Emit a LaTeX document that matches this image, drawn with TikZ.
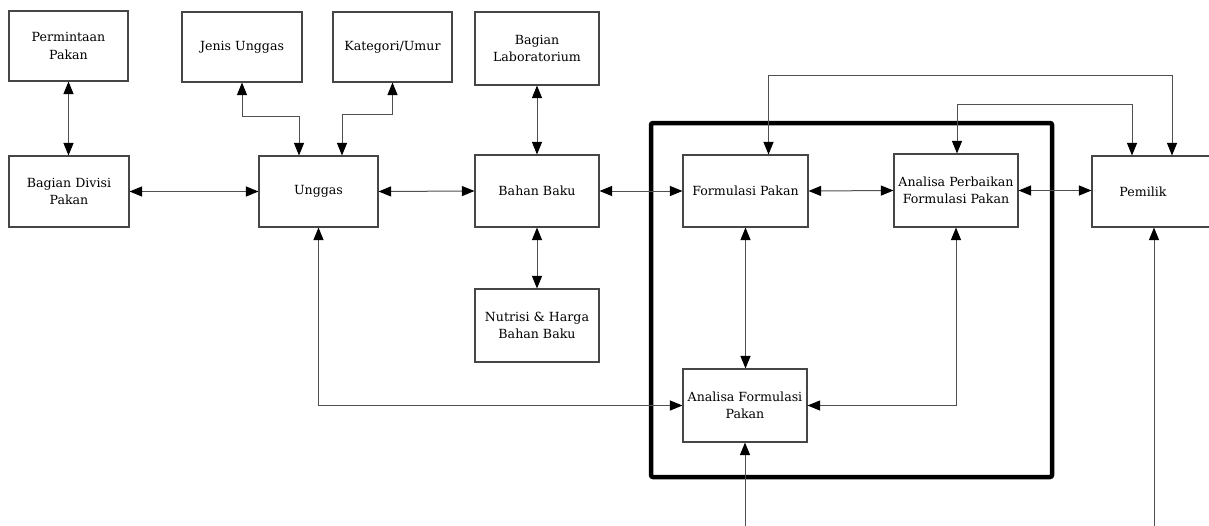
\documentclass[tikz,border=0pt]{standalone}
\usepackage{fontspec}
\setmainfont{DejaVu Serif}
\usetikzlibrary{arrows.meta}
\definecolor{boxgray}{RGB}{70,70,70}
\definecolor{linegray}{RGB}{80,80,80}
\begin{document}
\begin{tikzpicture}[x=1pt,y=-1pt,
  box/.style={draw=boxgray, line width=1.1pt, inner sep=0pt, align=center,
              font=\fontsize{12.6}{17.5}\selectfont},
  lbl/.style={inner sep=0pt, font=\fontsize{12.6}{17.5}\selectfont},
  link/.style={draw=linegray, line width=1pt, {Triangle[length=12.5pt,width=10pt,color=black]}-{Triangle[length=12.5pt,width=10pt,color=black]}},
  feed/.style={draw=linegray, line width=1pt, -{Triangle[length=12.5pt,width=10pt,color=black]}},
  frame/.style={draw=black, line width=4.5pt, rounded corners=2pt}]
\clip (0,0) rectangle (1209,525);
\fill[white] (0,0) rectangle (1209,525);

% boxes of the upper rows
\node[box, minimum width=119pt, minimum height=70pt] (perm)  at (68.5,46)    {Permintaan\\Pakan};
\node[box, minimum width=120pt, minimum height=70pt] (jenis) at (242,47)     {Jenis Unggas};
\node[box, minimum width=119pt, minimum height=70pt] (kat)   at (392.5,47)   {Kategori/Umur};
\node[box, minimum width=124pt, minimum height=73pt] (lab)   at (537,48.5)   {Bagian\\Laboratorium};
\node[box, minimum width=120pt, minimum height=71pt] (div)   at (69,191.5)   {Bagian Divisi\\Pakan};
\node[box, minimum width=119pt, minimum height=71pt] (ung)   at (318.5,191.5) {Unggas};
\node[box, minimum width=124pt, minimum height=72pt] (bahan) at (537,191)    {Bahan Baku};
\node[box, minimum width=125pt, minimum height=72pt] (form)  at (745.5,191)  {Formulasi Pakan};
\node[box, minimum width=124pt, minimum height=73pt] (aperb) at (956,190.5)  {Analisa Perbaikan\\Formulasi Pakan};
\node[box, minimum width=123pt, minimum height=71pt] (pem)   at (1153.5,191.5) {};
\node[lbl] (pemtxt) at (1143,191.5) {Pemilik};
\node[box, minimum width=124pt, minimum height=73pt] (nut)   at (537,325.5)  {Nutrisi \& Harga\\Bahan Baku};
\node[box, minimum width=124pt, minimum height=73pt] (aform) at (745,405.5)  {Analisa Formulasi\\Pakan};

% thick frame around the formulation block
\draw[frame] (651,123) rectangle (1052,477);

% links between the boxes
\draw[link] (perm.south) -- (perm.south |- div.north);
\draw[link] (jenis.south) -- (242,116) -| ([xshift=-19.5pt]ung.north);
\draw[link] (kat.south) -- (392.5,114) -| ([xshift=23.5pt]ung.north);
\draw[link] (div.east) -- (ung.west);
\draw[link] (ung.east) -- (bahan.west);
\draw[link] (lab.south) -- (bahan.north);
\draw[link] (bahan.south) -- (nut.north);
\draw[link] (bahan.east) -- (form.west);
\draw[link] (form.east) -- (aperb.west);
\draw[link] (aperb.east) -- (aperb.east -| pem.west);
\draw[link] (form.south) -- (form.south |- aform.north);
\draw[link] ([xshift=23pt]form.north) -- ++(0,-79) -| ([xshift=18.5pt]pem.north);
\draw[link] ([xshift=1pt]aperb.north) -- ++(0,-49) -| ([xshift=-21.5pt]pem.north);
\draw[link] (ung.south) |- (aform.west);
\draw[link] (aperb.south) |- (aform.east);

% incoming lines from below
\coordinate (inA) at (745,530);
\coordinate (inB) at (1154,530);
\draw[feed] (inA) -- (aform.south);
\draw[feed] (inB) -- (inB |- pem.south);
\end{tikzpicture}
\end{document}
